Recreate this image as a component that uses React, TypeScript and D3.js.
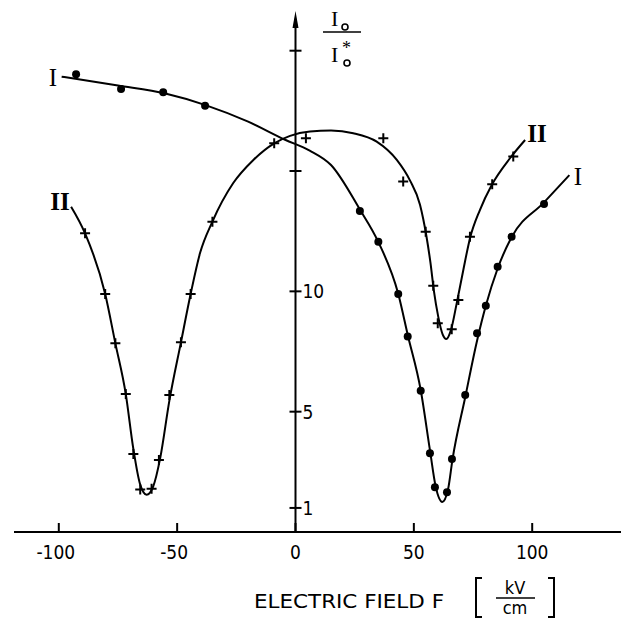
import React from "react";
import * as d3 from "d3";

// ---- Data ----
const xTicks = [-100, -50, 0, 50, 100];
const xTickLabels = ["-100", "-50", "0", "50", "100"];
const yTicks = [1, 5, 10, 15, 20];
const yTickLabels = ["1", "5", "10", "", ""];

// fitted curve I (kV/cm, I0/I0*)
const curveI: [number, number][] = [
  [-98.8, 18.92], [-75, 18.55], [-55, 18.22], [-38, 17.74], [-20, 17.05],
  [-4.4, 16.3], [6, 15.85], [15, 15.25], [27.2, 13.4], [35, 12.05],
  [43.4, 9.9], [47.4, 8.2], [52.9, 5.9], [56.8, 3.4], [59.2, 1.9],
  [62, 1.25], [64.5, 1.8], [66.3, 3.0], [71.7, 5.6], [76.7, 7.95],
  [80.4, 9.4], [85.4, 10.95], [91.3, 12.25], [105, 13.7], [115.7, 14.83],
];
// measured points, series I (dots)
const pointsI: [number, number][] = [
  [-92.7, 19.02], [-73.7, 18.41], [-55.9, 18.27], [-38.2, 17.71], [27.2, 13.34],
  [35.0, 12.06], [43.4, 9.89], [47.4, 8.12], [52.9, 5.87], [56.8, 3.27],
  [58.9, 1.86], [64.0, 1.65], [66.1, 3.03], [71.7, 5.69], [76.7, 8.26],
  [80.4, 9.4], [85.4, 11.02], [91.3, 12.27], [105.0, 13.63],
];
// fitted curve II
const curveII: [number, number][] = [
  [-94.8, 13.52], [-88.9, 12.41], [-80.4, 9.89], [-76.1, 7.84], [-71.7, 5.73],
  [-68.5, 3.45], [-65.7, 2.0], [-62.9, 1.55], [-60.1, 1.9], [-57.2, 3.05],
  [-53.3, 5.45], [-48.4, 7.88], [-44.3, 9.89], [-40.3, 11.6], [-35.1, 12.9],
  [-26.3, 14.5], [-17.8, 15.46], [-9, 16.15], [-2.3, 16.46], [6.1, 16.64],
  [15, 16.68], [24.4, 16.57], [34.3, 16.22], [42.8, 15.46], [48.4, 14.6],
  [52.6, 13.6], [55.3, 12.3], [57, 11.2], [58.5, 10.0], [60.3, 8.95],
  [62.2, 8.2], [63.7, 8.02], [65.7, 8.4], [68.1, 9.5], [70.9, 10.89],
  [73.7, 12.2], [77.9, 13.38], [82.9, 14.42], [90.6, 15.53], [97, 16.29],
];
// measured points, series II (crosses)
const pointsII: [number, number][] = [
  [-88.9, 12.41], [-80.4, 9.89], [-76.1, 7.84], [-71.7, 5.73], [-68.5, 3.24],
  [-65.6, 1.77], [-60.8, 1.8], [-57.7, 2.99], [-53.3, 5.69], [-48.4, 7.88],
  [-44.3, 9.89], [-35.1, 12.89], [-9.0, 16.15], [4.4, 16.36], [37.1, 16.36],
  [45.5, 14.56], [55.0, 12.48], [58.2, 10.23], [60.1, 8.67], [66.0, 8.42],
  [68.8, 9.64], [73.7, 12.27], [83.1, 14.45], [92.0, 15.6],
];

const W = 621;
const H = 619;
const sans = "'Liberation Sans Narrow', 'DejaVu Sans Condensed', 'Liberation Sans', sans-serif";
const serif = "'Liberation Serif', 'DejaVu Serif', serif";

export default function App() {
  const x = d3.scaleLinear().domain([-100, 100]).range([58.8, 532.2]);
  const y = d3.scaleLinear().domain([0, 20]).range([532, 50.7]);
  const line = d3
    .line<[number, number]>()
    .x((d) => x(d[0]))
    .y((d) => y(d[1]))
    .curve(d3.curveMonotoneX);

  const x0 = x(0);
  const yAxis0 = y(0);

  return (
    <svg
      width={W}
      height={H}
      viewBox={`0 0 ${W} ${H}`}
      style={{ position: "absolute", left: 0, top: 0, background: "#fff" }}
    >
      {/* x axis */}
      <line x1={14} x2={W} y1={yAxis0} y2={yAxis0} stroke="#000" strokeWidth={2} />
      {xTicks.map((t, i) => (
        <g key={"xt" + t}>
          <line x1={x(t)} x2={x(t)} y1={yAxis0} y2={yAxis0 - 9} stroke="#000" strokeWidth={2} />
          <text
            x={x(t) - (t < 0 ? 3 : 0)}
            y={yAxis0 + 27}
            textAnchor="middle"
            fontFamily={sans}
            fontSize={19}
            fill="#000"
          >
            {xTickLabels[i]}
          </text>
        </g>
      ))}

      {/* y axis */}
      <line x1={x0} x2={x0} y1={yAxis0} y2={24} stroke="#000" strokeWidth={2} />
      <path d={`M${x0},11 L${x0 - 3},28 L${x0 + 3},28 Z`} fill="#000" />
      {yTicks.map((t, i) => (
        <g key={"yt" + t}>
          <line x1={x0 - 6} x2={x0 + 6} y1={y(t)} y2={y(t)} stroke="#000" strokeWidth={2} />
          {yTickLabels[i] && (
            <text x={x0 + 7} y={y(t) + 7} fontFamily={sans} fontSize={19} fill="#000">
              {yTickLabels[i]}
            </text>
          )}
        </g>
      ))}

      {/* y axis label I0 / I0* */}
      <g fill="#000">
        <text x={331} y={26} fontFamily={serif} fontSize={22}>I</text>
        <circle cx={345} cy={27} r={3} fill="none" stroke="#000" strokeWidth={1.6} />
        <line x1={323} x2={361} y1={32} y2={32} stroke="#000" strokeWidth={1.6} />
        <text x={331} y={62} fontFamily={serif} fontSize={22}>I</text>
        <text x={342} y={54} fontFamily={serif} fontSize={18}>*</text>
        <circle cx={347} cy={63} r={3} fill="none" stroke="#000" strokeWidth={1.6} />
      </g>

      {/* curves */}
      <path d={line(curveI) || ""} fill="none" stroke="#000" strokeWidth={2} />
      <path d={line(curveII) || ""} fill="none" stroke="#000" strokeWidth={2} />

      {pointsI.map((p, i) => (
        <circle key={"pI" + i} cx={x(p[0])} cy={y(p[1])} r={4} fill="#000" />
      ))}
      {pointsII.map((p, i) => (
        <path
          key={"pII" + i}
          d={`M${x(p[0]) - 5},${y(p[1])} H${x(p[0]) + 5} M${x(p[0])},${y(p[1]) - 5} V${y(p[1]) + 5}`}
          stroke="#000"
          strokeWidth={2}
          fill="none"
        />
      ))}

      {/* curve labels */}
      <g fontFamily={serif} fontSize={25} fill="#000" textAnchor="middle">
        <text x={53} y={86}>I</text>
        <text x={60} y={210} fontWeight="bold">II</text>
        <text x={537} y={142} fontWeight="bold">II</text>
        <text x={578} y={185}>I</text>
      </g>

      {/* x axis title */}
      <g fill="#000" fontFamily={sans}>
        <text x={254} y={608} fontSize={19} textLength={190} lengthAdjust="spacingAndGlyphs">
          ELECTRIC FIELD F
        </text>
        <path d="M482,578 H476 V617 H482" fill="none" stroke="#000" strokeWidth={2} />
        <path d="M548,578 H554 V617 H548" fill="none" stroke="#000" strokeWidth={2} />
        <text x={515} y={594} fontSize={18} textAnchor="middle">kV</text>
        <line x1={496} x2={535} y1={598} y2={598} stroke="#000" strokeWidth={1.6} />
        <text x={515} y={614} fontSize={18} textAnchor="middle">cm</text>
      </g>
    </svg>
  );
}
